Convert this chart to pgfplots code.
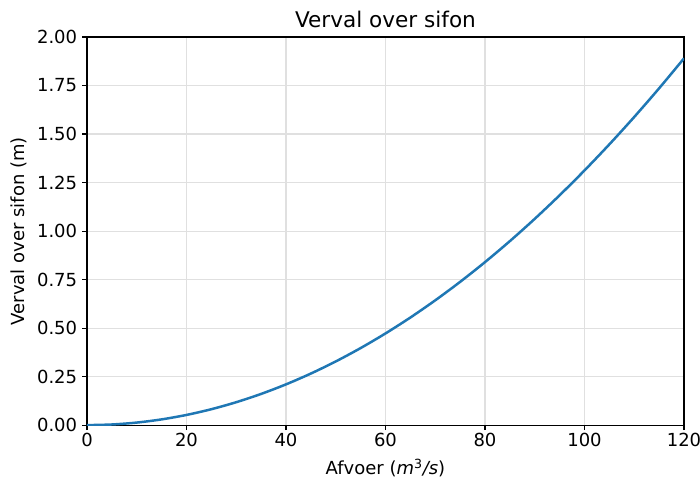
\documentclass[border=0pt]{standalone}
\usepackage{pgfplots}
\pgfplotsset{compat=1.18}
\usepackage{fontspec}
\setmainfont{DejaVu Sans}
\definecolor{mplblue}{HTML}{1F77B4}
\begin{document}
\begin{tikzpicture}
\begin{axis}[
  scale only axis,
  width=429.8bp, height=279.4bp,
  xmin=0, xmax=120, ymin=0, ymax=2,
  xtick={0,20,...,120},
  ytick={0,0.25,...,2},
  yticklabel style={/pgf/number format/.cd,fixed,fixed zerofill,precision=2},
  /pgf/number format/assume math mode=true,
  tick label style={font=\fontsize{13}{15}\selectfont},
  xticklabel style={yshift=1pt},
  label style={font=\fontsize{13}{15}\selectfont},
  xlabel style={yshift=-2pt},
  ylabel style={yshift=0.5pt},
  title style={font=\fontsize{15.6}{18}\selectfont, yshift=-3pt},
  title={Verval over sifon},
  xlabel={Afvoer (\textit{m}\textsuperscript{3}\textit{/s})},
  ylabel={Verval over sifon (m)},
  grid=major,
  major grid style={draw=black!12, line width=0.8pt},
  axis line style={line width=0.8pt},
  tick style={black, line width=0.8pt},
  tick align=outside,
  major tick length=3.6pt,
  xtick pos=bottom, ytick pos=left,
]
\addplot[mplblue, line width=1.8pt, smooth] coordinates {
(0,0) (5,0.00328) (10,0.013125) (15,0.02953) (20,0.0525) (25,0.08203)
(30,0.118125) (35,0.16078) (40,0.21) (45,0.26578) (50,0.328125)
(55,0.39703) (60,0.4725) (65,0.55453) (70,0.643125) (75,0.73828)
(80,0.84) (85,0.94828) (90,1.063125) (95,1.18453) (100,1.3125)
(105,1.44703) (110,1.588125) (115,1.73578) (120,1.89)
};
\coordinate (bl) at (rel axis cs:-0.1457,-0.1443);
\coordinate (tr) at (rel axis cs:1.0268,1.0954);
\end{axis}
\pgfresetboundingbox
\path[use as bounding box] (bl) rectangle (tr);
\end{tikzpicture}
\end{document}
